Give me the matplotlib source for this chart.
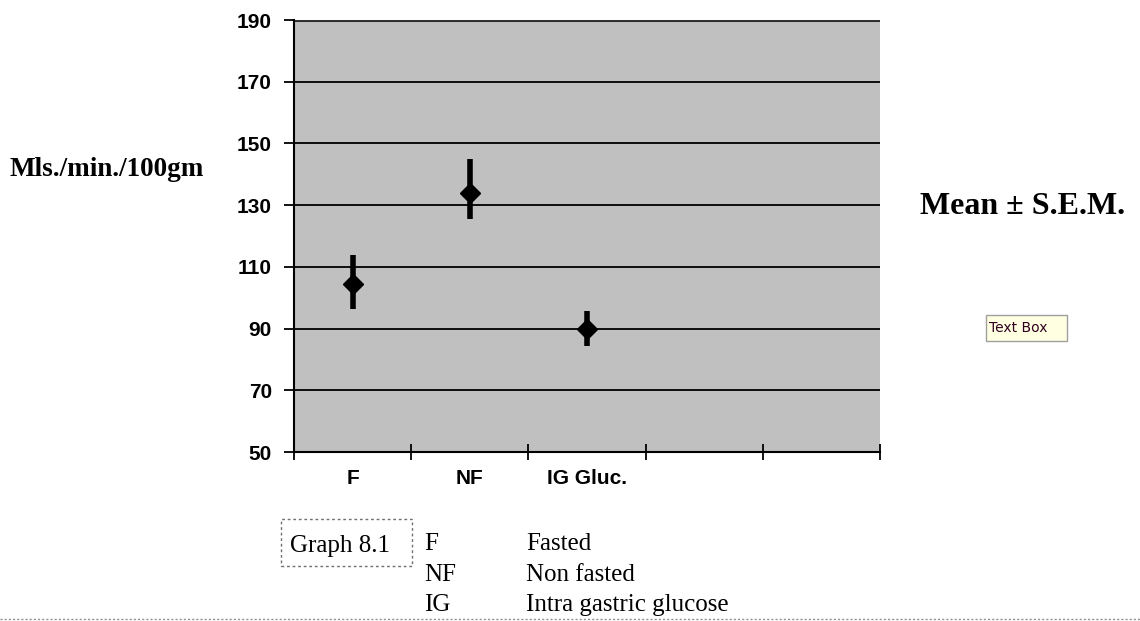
import matplotlib
matplotlib.use("Agg")
import matplotlib.pyplot as plt
from matplotlib.patches import Rectangle
import numpy as np

# Data
categories = ["F", "NF", "IG Gluc."]
n_slots = 5
means = [104.6, 134.0, 89.8]
err_upper = [113.8, 145.0, 95.7]
err_lower = [96.3, 125.5, 84.3]
yticks = [50, 70, 90, 110, 130, 150, 170, 190]
legend_abbr = ["F", "NF", "IG"]
legend_desc = ["Fasted", "Non fasted", "Intra gastric glucose"]

W, H = 1140, 621
fig = plt.figure(figsize=(W / 100, H / 100), dpi=100)
fig.patch.set_facecolor("white")

ax = fig.add_axes([294 / W, 1 - 452 / H, 586 / W, 432 / H])
ax.set_facecolor("#c0c0c0")
ax.set_xlim(-0.5, n_slots - 0.5)
ax.set_ylim(50, 190)

# gridlines
ax.set_yticks(yticks)
ax.yaxis.grid(True, color="black", linewidth=1.3)
ax.set_axisbelow(True)
for s in ["top", "right"]:
    ax.spines[s].set_visible(False)
ax.spines["left"].set_linewidth(1.5)
ax.spines["bottom"].set_linewidth(1.5)
ax.axhline(190, color="#303030", linewidth=2.2, zorder=1)

# ticks
ax.set_xticks(np.arange(-0.5, n_slots, 1.0))
ax.set_xticklabels([])
ax.tick_params(axis="x", which="major", direction="inout", length=12, width=1.3)
ax.set_xticks(np.arange(len(categories)), minor=True)
ax.set_xticklabels(categories, minor=True, fontsize=15, fontweight="bold",
                   family="Liberation Sans")
ax.tick_params(axis="x", which="minor", length=0, pad=12)
ax.tick_params(axis="y", direction="out", length=7, width=1.3, pad=9)
for lab in ax.get_yticklabels():
    lab.set_fontsize(15)
    lab.set_fontweight("bold")
    lab.set_family("Liberation Sans")

x = np.arange(len(categories))
m = np.array(means)
yerr = np.vstack([m - np.array(err_lower), np.array(err_upper) - m])
ax.errorbar(x, m, yerr=yerr, fmt="D", color="black", markersize=10,
            elinewidth=4.0, capsize=0, zorder=5)

# Texts
fig.text(10 / W, 1 - 170 / H, "Mls./min./100gm", fontsize=19.5, fontweight="bold",
         family="Liberation Serif", va="center", ha="left")
fig.text(1023 / W, 1 - 207 / H, "Mean ± S.E.M.", fontsize=23, fontweight="bold",
         family="Liberation Serif", va="center", ha="center")

# Text Box
tb = Rectangle((986 / W, 1 - 341 / H), 81 / W, 26 / H, transform=fig.transFigure,
               facecolor="#ffffe1", edgecolor="#a0a0a0", linewidth=1.0)
fig.patches.append(tb)
fig.text(989 / W, 1 - 328 / H, "Text Box", fontsize=10, family="DejaVu Sans",
         va="center", ha="left", color="#300020")

# Graph 8.1 box
gb = Rectangle((281 / W, 1 - 566 / H), 131 / W, 47 / H, transform=fig.transFigure,
               facecolor="none", edgecolor="#707070", linewidth=1.0, linestyle=(0, (2, 2)))
fig.patches.append(gb)
fig.text(340 / W, 1 - 546 / H, "Graph 8.1", fontsize=18, family="Liberation Serif",
         va="center", ha="center")

rows_y = [544, 575, 605]
for a, d, yy in zip(legend_abbr, legend_desc, rows_y):
    fig.text(424 / W, 1 - yy / H, a, fontsize=18, family="Liberation Serif",
             va="center", ha="left")
    fig.text(526 / W, 1 - yy / H, d, fontsize=18, family="Liberation Serif",
             va="center", ha="left")

# bottom dotted line
fig.add_artist(plt.Line2D([0, 1], [1 - 619 / H, 1 - 619 / H], transform=fig.transFigure,
                          color="#909090", linewidth=1.0, linestyle=(0, (1.5, 1.5))))

fig.savefig("out.png", dpi=100)
